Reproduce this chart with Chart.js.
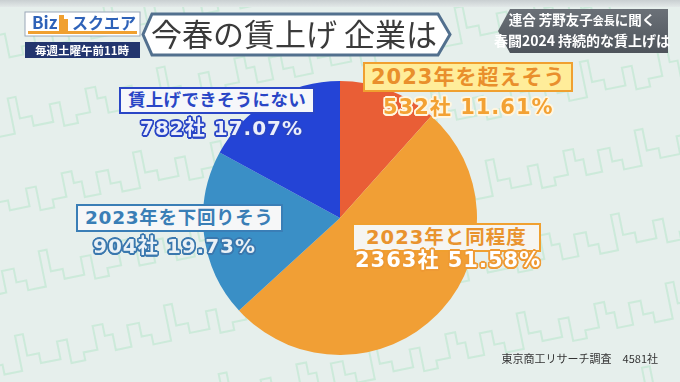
<!DOCTYPE html>
<html>
<head>
<meta charset="utf-8">
<script src="https://cdn.jsdelivr.net/npm/chart.js@4"></script>
<style>
  html, body { margin: 0; padding: 0; }
  body {
    width: 680px; height: 382px; overflow: hidden; position: relative;
    background: #E6EFEC;
    font-family: "Noto Sans CJK JP", "Noto Sans", sans-serif;
  }
  #bg { position: absolute; left: 0; top: 0; }
  #pieWrap { position: absolute; left: 203px; top: 81px; width: 274px; height: 274px; }
  .abs { position: absolute; white-space: pre; }
  .tag { font-family: "DejaVu Sans", "Noto Sans CJK JP", sans-serif; font-weight: 700; line-height: 1; border: 2px solid; }
  .val { font-family: "DejaVu Sans", "Noto Sans CJK JP", sans-serif; font-weight: 700; line-height: 1; letter-spacing: 1px; }
  #source { right: 22px; top: 350px; font-size: 11px; color: #333; }
</style>
</head>
<body>
<canvas id="bg" width="680" height="382"></canvas>

<svg class="abs" style="left:0;top:0" width="680" height="70">
  <defs>
    <linearGradient id="top" x1="0" y1="0" x2="0" y2="1">
      <stop offset="0" stop-color="#C9CFD1"/><stop offset="1" stop-color="#E2E8E8"/>
    </linearGradient>
    <linearGradient id="dark" x1="0" y1="0" x2="0" y2="1">
      <stop offset="0" stop-color="#6B7178"/><stop offset="1" stop-color="#4E545B"/>
    </linearGradient>
  </defs>
  <rect x="0" y="0" width="680" height="7" fill="url(#top)"/>
  <!-- ロゴ -->
  <rect x="25" y="12" width="115" height="24" fill="#FFFFFF" stroke="#9AA8B8" stroke-width="1"/>
  <rect x="28" y="31" width="109" height="3" fill="#F0A030"/>
  <text x="32" y="29" font-size="17" font-weight="700" fill="#2E62B8" font-family="Noto Sans CJK JP">Biz</text>
  <rect x="59" y="15" width="5" height="16" fill="#F0A030"/>
  <rect x="64" y="19" width="4" height="12" fill="#F0A030"/>
  <text x="72" y="29" font-size="16" font-weight="700" fill="#2E62B8" font-family="Noto Sans CJK JP">スクエア</text>
  <rect x="25" y="42" width="115" height="16" fill="#22356E"/>
  <text x="82" y="54.5" font-size="11.5" font-weight="700" fill="#FFFFFF" text-anchor="middle" font-family="Noto Sans CJK JP">毎週土曜午前11時</text>
  <!-- タイトル -->
  <polygon points="152,14 438,14 450,34.5 438,55 152,55 143,34.5" fill="#FFFFFF" stroke="#52708E" stroke-width="3"/>
  <text x="294" y="45.5" font-size="31" fill="#3A3A3A" text-anchor="middle" font-family="Noto Sans CJK JP">今春の賃上げ 企業は</text>
  <!-- 右上 -->
  <polygon points="498,31 510,9 668,9 668,53 510,53" fill="url(#dark)"/>
  <text x="582" y="25" font-size="13.5" font-weight="700" fill="#FFFFFF" text-anchor="middle" font-family="Noto Sans CJK JP">連合 芳野友子<tspan font-size="11">会長</tspan>に聞く</text>
  <text x="582" y="46" font-size="14" font-weight="700" fill="#FFFFFF" text-anchor="middle" font-family="Noto Sans CJK JP">春闘2024 持続的な賃上げは</text>
</svg>

<div id="pieWrap"><canvas id="pie" width="274" height="274"></canvas></div>
<div id="labels"></div>
<div id="source" class="abs">東京商工リサーチ調査　4581社</div>

<script>
// データ
const categories = ['2023年を超えそう', '2023年と同程度', '2023年を下回りそう', '賃上げできそうにない'];
const companies = [532, 2363, 904, 782];
const percents = [11.61, 51.58, 19.73, 17.07];
const totalCompanies = 4581;

const sliceColors = ['#E95E36', '#F19F35', '#3A8FC6', '#2444D6'];

// 背景の街並み模様
(function drawBackground() {
  const c = document.getElementById('bg').getContext('2d');
  c.strokeStyle = 'rgba(130, 220, 165, 0.26)';
  c.lineWidth = 2;
  c.save();
  c.rotate(-0.2);
  const blocks = [[14, 10], [10, 34], [8, 22], [16, 6], [12, 28], [10, 14], [18, 4], [8, 40], [12, 18], [20, 8], [10, 26], [14, 2]];
  for (let row = -1; row < 8; row++) {
    const y0 = 60 + row * 78;
    c.beginPath();
    let x = -140 + (row % 2) * 40;
    c.moveTo(x, y0);
    while (x < 840) {
      for (const b of blocks) {
        c.lineTo(x, y0 - b[1]);
        x += b[0];
        c.lineTo(x, y0 - b[1]);
      }
    }
    c.stroke();
  }
  c.restore();
})();

// 円グラフ
const ctx = document.getElementById('pie').getContext('2d');
new Chart(ctx, {
  type: 'pie',
  data: {
    labels: categories,
    datasets: [{
      data: companies,
      backgroundColor: sliceColors,
      borderWidth: 0
    }]
  },
  options: {
    responsive: false,
    animation: false,
    layout: { padding: 0 },
    plugins: {
      legend: { display: false },
      tooltip: { enabled: false }
    }
  }
});

// ラベル
function outline(color, w) {
  const out = [];
  for (let a = 0; a < 16; a++) {
    const t = a / 16 * Math.PI * 2;
    out.push((Math.cos(t) * w).toFixed(1) + 'px ' + (Math.sin(t) * w).toFixed(1) + 'px 0 ' + color);
  }
  return out.join(',');
}

const labelStyles = [
  { x: 363, y: 62, size: 21, ls: 1, pad: '3px 6px 2px', valX: 383, valY: 97, valSize: 21, bg: '#FFED9A', border: '#F0A030', text: '#E98F2C', valFill: '#F3A133', valStroke: '#FFF6E0' },
  { x: 352, y: 223, size: 19.5, ls: 1, pad: '3px 12px 2px', valX: 355, valY: 250, valSize: 21, bg: '#F6F5F1', border: '#F0A030', text: '#E9932E', valFill: '#FFFFFF', valStroke: '#EE9A34' },
  { x: 76, y: 204, size: 18.5, ls: 0.7, pad: '3px 7px 2px', valX: 93, valY: 236, valSize: 20, bg: '#F6F7F8', border: '#3A7EB6', text: '#3A7EB6', valFill: '#EAF1F6', valStroke: '#3B78AE' },
  { x: 119, y: 87, size: 17.5, ls: 0.3, pad: '3px 7px 2px', valX: 140, valY: 118, valSize: 20, bg: '#F6F7FA', border: '#2A46C6', text: '#2A46C6', valFill: '#ECEFFA', valStroke: '#2A46C6' }
];

const holder = document.getElementById('labels');
categories.forEach(function(name, i) {
  const s = labelStyles[i];
  const tag = document.createElement('div');
  tag.className = 'abs tag';
  tag.textContent = name;
  tag.style.left = s.x + 'px';
  tag.style.top = s.y + 'px';
  tag.style.fontSize = s.size + 'px';
  tag.style.letterSpacing = s.ls + 'px';
  tag.style.padding = s.pad;
  tag.style.background = s.bg;
  tag.style.borderColor = s.border;
  tag.style.color = s.text;
  holder.appendChild(tag);

  const val = document.createElement('div');
  val.className = 'abs val';
  val.textContent = companies[i] + '社 ' + percents[i].toFixed(2) + '%';
  val.style.left = s.valX + 'px';
  val.style.top = s.valY + 'px';
  val.style.fontSize = s.valSize + 'px';
  val.style.color = s.valFill;
  val.style.textShadow = outline(s.valStroke, 1.6);
  holder.appendChild(val);
});

document.getElementById('source').textContent = '東京商工リサーチ調査　' + totalCompanies + '社';
</script>
</body>
</html>
